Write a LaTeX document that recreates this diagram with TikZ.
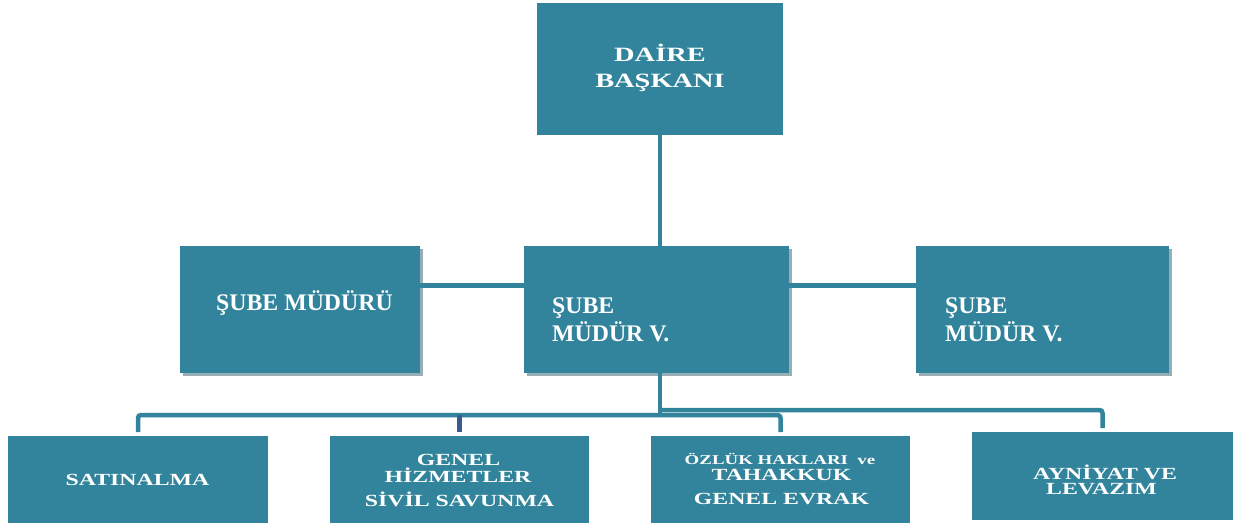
\documentclass[tikz,border=0pt]{standalone}
\usepackage{fontspec}
\setmainfont{Liberation Serif}
\newfontfamily\widefont[FakeStretch=1.4]{Liberation Serif}
\usetikzlibrary{shadows}
\definecolor{boxteal}{HTML}{31849B}
\definecolor{lineteal}{HTML}{31849B}
\definecolor{shadowgray}{HTML}{98AEB7}
\definecolor{navyline}{HTML}{3B5B8E}
\tikzset{
  box/.style={fill=boxteal, inner sep=0pt, outer sep=0pt, anchor=north west},
  shadowbox/.style={box, drop shadow={shadow xshift=3pt, shadow yshift=-3pt, fill=shadowgray, opacity=1}},
  conn/.style={draw=lineteal, line width=4.5pt},
  lbl/.style={text=white, inner sep=0pt, anchor=base},
  lblw/.style={text=white, inner sep=0pt, anchor=base west},
  bigfont/.style={font=\bfseries\fontsize{23.8}{23.8}\selectfont},
  topfont/.style={font=\widefont\bfseries\fontsize{20.3}{20.3}\selectfont},
  botfont/.style={font=\widefont\bfseries\fontsize{17}{17}\selectfont},
  smallfont/.style={font=\widefont\bfseries\fontsize{13.5}{13.5}\selectfont}
}
\begin{document}
\begin{tikzpicture}[x=1pt,y=-1pt]
\useasboundingbox[fill=white] (0,0) rectangle (1234,526);
\coordinate (hy) at (0,285.5);
\coordinate (jb) at (660,415);
\coordinate (ja) at (660,410);
% boxes
\node[box, minimum width=246pt, minimum height=132pt] (dB) at (537,3) {};
\node[shadowbox, minimum width=240pt, minimum height=127pt] (sL) at (180,246) {};
\node[shadowbox, minimum width=265pt, minimum height=127pt] (sC) at (524,246) {};
\node[shadowbox, minimum width=253pt, minimum height=127pt] (sR) at (916,246) {};
\node[box, minimum width=260pt, minimum height=87pt] (b1) at (8,436) {};
\node[box, minimum width=259pt, minimum height=87pt] (b2) at (330,436) {};
\node[box, minimum width=259pt, minimum height=87pt] (b3) at (651,436) {};
\node[box, minimum width=261pt, minimum height=88pt] (b4) at (972,432) {};
% connectors
\draw[conn] (dB.south) -- (dB.south |- sC.north);
\draw[conn] (sL.east |- hy) -- (sC.west |- hy);
\draw[conn] (sC.east |- hy) -- (sR.west |- hy);
\draw[conn] (dB.south |- sC.south) -- (jb);
\draw[conn, rounded corners=3pt, shorten >=4pt] (jb) -- (b1.north |- jb) -- (b1.north);
\draw[conn, rounded corners=3pt, shorten >=4pt] (jb) -- (b3.north |- jb) -- (b3.north);
\draw[conn, rounded corners=3pt, shorten >=4pt] (ja) -- (b4.north |- ja) -- (b4.north);
\draw[conn, draw=navyline, shorten >=4pt] (b2.north |- jb) -- (b2.north);
% texts
\node[lbl, topfont] (t1a) at (660,62) {DAİRE};
\node[lbl, topfont] (t1b) at (660,88) {BAŞKANI};
\node[lblw, bigfont] (tLa) at (216,311) {ŞUBE MÜDÜRÜ};
\node[lblw, bigfont] (tCa) at (552,314) {ŞUBE};
\node[lblw, bigfont] (tCb) at (552,342) {MÜDÜR V.};
\node[lblw, bigfont] (tRa) at (945,314) {ŞUBE};
\node[lblw, bigfont] (tRb) at (945,342) {MÜDÜR V.};
\node[lbl, botfont] (tb1) at (137.5,485) {SATINALMA};
\node[lbl, botfont] (tb2a) at (458.5,465) {GENEL};
\node[lbl, botfont] (tb2b) at (458,482) {HİZMETLER};
\node[lbl, botfont] (tb2c) at (459.5,506) {SİVİL SAVUNMA};
\node[lbl, smallfont] (tb3a) at (780,464) {ÖZLÜK HAKLARI\ \ ve};
\node[lbl, botfont] (tb3b) at (781.5,480) {TAHAKKUK};
\node[lbl, botfont] (tb3c) at (781.5,504) {GENEL EVRAK};
\node[lbl, botfont] (tb4a) at (1105,479) {AYNİYAT VE};
\node[lbl, botfont] (tb4b) at (1101.5,494) {LEVAZIM};
\end{tikzpicture}
\end{document}
